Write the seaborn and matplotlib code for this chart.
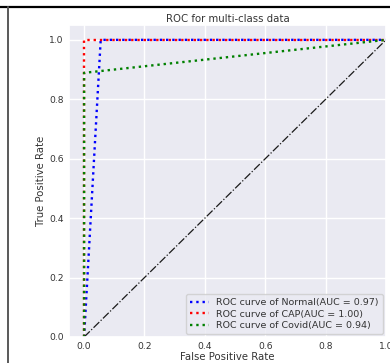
import matplotlib
matplotlib.use("Agg")
import matplotlib.pyplot as plt
from matplotlib.lines import Line2D
import pandas as pd
import seaborn as sns

# ROC points
normal_fpr = [0.0, 0.055, 1.0]
normal_tpr = [0.0, 1.0, 1.0]
cap_fpr = [0.0, 0.0, 1.0]
cap_tpr = [0.0, 1.0, 1.0]
covid_fpr = [0.0, 0.0, 1.0]
covid_tpr = [0.0, 0.889, 1.0]

class_names = ["Normal", "CAP", "Covid"]
auc_values = [0.97, 1.00, 0.94]
class_colors = ["blue", "red", "green"]

x_ticks = [0.0, 0.2, 0.4, 0.6, 0.8, 1.0]
y_ticks = [0.0, 0.2, 0.4, 0.6, 0.8, 1.0]

sns.set_theme(style="darkgrid")
plt.rcParams["font.family"] = ["DejaVu Sans"]

W, H = 390, 363
fig = plt.figure(figsize=(W / 100, H / 100), dpi=100)
ax = fig.add_axes([69 / W, (H - 337) / H, (386 - 69) / W, (337 - 25) / H])

curves = [(normal_fpr, normal_tpr), (cap_fpr, cap_tpr), (covid_fpr, covid_tpr)]
for (fpr, tpr), name, auc, color in zip(curves, class_names, auc_values, class_colors):
    df = pd.DataFrame({"fpr": fpr, "tpr": tpr})
    sns.lineplot(data=df, x="fpr", y="tpr", ax=ax, estimator=None, sort=False,
                 color=color, linestyle=":", linewidth=1.7,
                 label=f"ROC curve of {name}(AUC = {auc:.2f})")

ax.plot([0, 1], [0, 1], "k-.", linewidth=0.9)

ax.set_xlim(-0.05, 1.0)
ax.set_ylim(0.0, 1.05)
ax.set_xticks(x_ticks)
ax.set_yticks(y_ticks)
ax.tick_params(labelsize=6.6, colors="0.2", length=0, pad=3.8)
ax.set_xlabel("False Positive Rate", fontsize=7.3, color="0.2", labelpad=0.5)
ax.set_ylabel("True Positive Rate", fontsize=7.3, color="0.2", labelpad=2.5)
ax.set_title("ROC for multi-class data", fontsize=7.3, color="0.2", pad=2.5)
ax.legend(loc="lower right", fontsize=6.8, borderaxespad=0.35,
          labelspacing=0.25, labelcolor="0.2")

# notebook frame edges around the screenshot
fig.add_artist(Line2D([0, 1], [1 - 7 / H, 1 - 7 / H], color="black", linewidth=1.6))
fig.add_artist(Line2D([7.5 / W, 7.5 / W], [0, 1 - 7 / H], color="0.35", linewidth=1.4))

fig.savefig("out.png", dpi=100)
